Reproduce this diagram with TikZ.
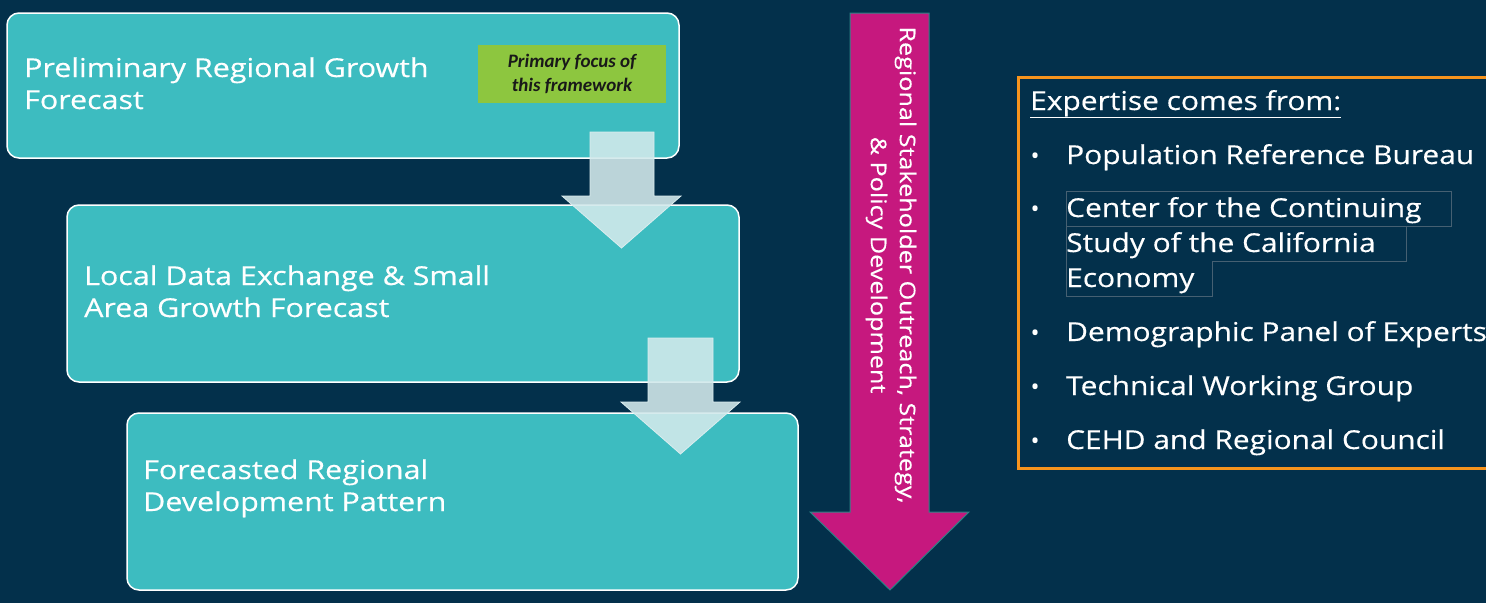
\documentclass[tikz,border=0pt]{standalone}
\usepackage{fontspec}
\setmainfont{Open Sans}
\newfontfamily\wide[FakeStretch=1.17,FakeBold=0.4]{Open Sans}
\newfontfamily\widelist[FakeStretch=1.15,FakeBold=0.4]{Open Sans}
\newfontfamily\carl{Carlito}
\definecolor{navy}{RGB}{3,48,75}
\definecolor{teal}{RGB}{61,188,192}
\definecolor{pale}{RGB}{210,233,235}
\definecolor{lime}{RGB}{141,198,63}
\definecolor{magenta}{RGB}{198,24,126}
\definecolor{orng}{RGB}{247,148,29}
\definecolor{faint}{RGB}{70,96,114}
\tikzset{
  stage/.style={fill=teal, draw=white, line width=1.5pt, rounded corners=12pt},
  stagetext/.style={anchor=base west, inner sep=0pt, text=white,
    font=\wide\fontsize{26}{32}\selectfont},
  flowarrow/.style={fill=pale, fill opacity=0.89, draw=pale!80!white, line width=0.8pt},
  bigarrow/.style={fill=magenta, draw=teal!70!black, line width=1pt},
  bulletitem/.style={anchor=base west, inner sep=0pt, text=white,
    font=\widelist\fontsize{26}{32}\selectfont},
  bulletdot/.style={anchor=base, inner sep=0pt, text=white,
    font=\fontsize{24}{32}\selectfont},
}
\begin{document}
\begin{tikzpicture}[x=1pt,y=-1pt]
\useasboundingbox (0,0) rectangle (1486,603);
\fill[navy] (0,0) rectangle (1486,603);

% stage boxes
\draw[stage] (7,13) rectangle (679,158);
\draw[stage] (67,205) rectangle (739,382);
\draw[stage] (127,413) rectangle (798,590);

\node[stagetext] (t1a) at (24,77) {Preliminary Regional Growth};
\node[stagetext] (t1b) at (24,109) {Forecast};
\node[stagetext] (t2a) at (84,285) {Local Data Exchange \& Small};
\node[stagetext] (t2b) at (84,317) {Area Growth Forecast};
\node[stagetext] (t3a) at (143,479) {Forecasted Regional};
\node[stagetext] (t3b) at (143,511) {Development Pattern};

% green label
\node[fill=lime, minimum width=188pt, minimum height=58pt, inner sep=0pt,
  align=center, text={rgb,255:red,25;green,25;blue,25},
  font=\carl\bfseries\itshape\fontsize{19}{24}\selectfont] (focus) at (572,74)
  {Primary focus of\\this framework};

% flow arrows
\draw[flowarrow] (590,132) -- (654,132) -- (654,196) -- (681,196) -- (621.5,248)
  -- (562,196) -- (590,196) -- cycle;
\draw[flowarrow] (648,338) -- (713,338) -- (713,402) -- (740,402) -- (680.5,454)
  -- (621,402) -- (648,402) -- cycle;

% magenta arrow
\draw[bigarrow] (850,13) -- (929,13) -- (929,512) -- (969,512) -- (890,590)
  -- (810,512) -- (850,512) -- cycle;
\node[rotate=-90, align=center, text=white, inner sep=0pt,
  font=\wide\fontsize{21.5}{29}\selectfont] (side) at (891,265)
  {Regional Stakeholder Outreach, Strategy,\\\& Policy Development};

% expertise box
\draw[orng, line width=3pt] (1018,77) rectangle (1500,468);
\draw[faint, line width=0.6pt] (1066,191) rectangle (1451,226);
\draw[faint, line width=0.6pt] (1066,226) -- (1066,296) -- (1212,296) -- (1212,261) -- (1406,261) -- (1406,226);

\node[bulletitem] (head) at (1030,110) {\underline{Expertise comes from:}};
\foreach \y/\n in {164/a,217/b,341/d,395/e,449/f}{
  \node[bulletdot] (dot\n) at (1035,\y) {•};
}
\node[bulletitem] (i1) at (1066,164) {Population Reference Bureau};
\node[bulletitem] (i2) at (1066,217) {Center for the Continuing};
\node[bulletitem] (i2b) at (1066,252) {Study of the California};
\node[bulletitem] (i2c) at (1066,287) {Economy};
\node[bulletitem] (i3) at (1066,341) {Demographic Panel of Experts};
\node[bulletitem] (i4) at (1066,395) {Technical Working Group};
\node[bulletitem] (i5) at (1066,449) {CEHD and Regional Council};
\end{tikzpicture}
\end{document}
